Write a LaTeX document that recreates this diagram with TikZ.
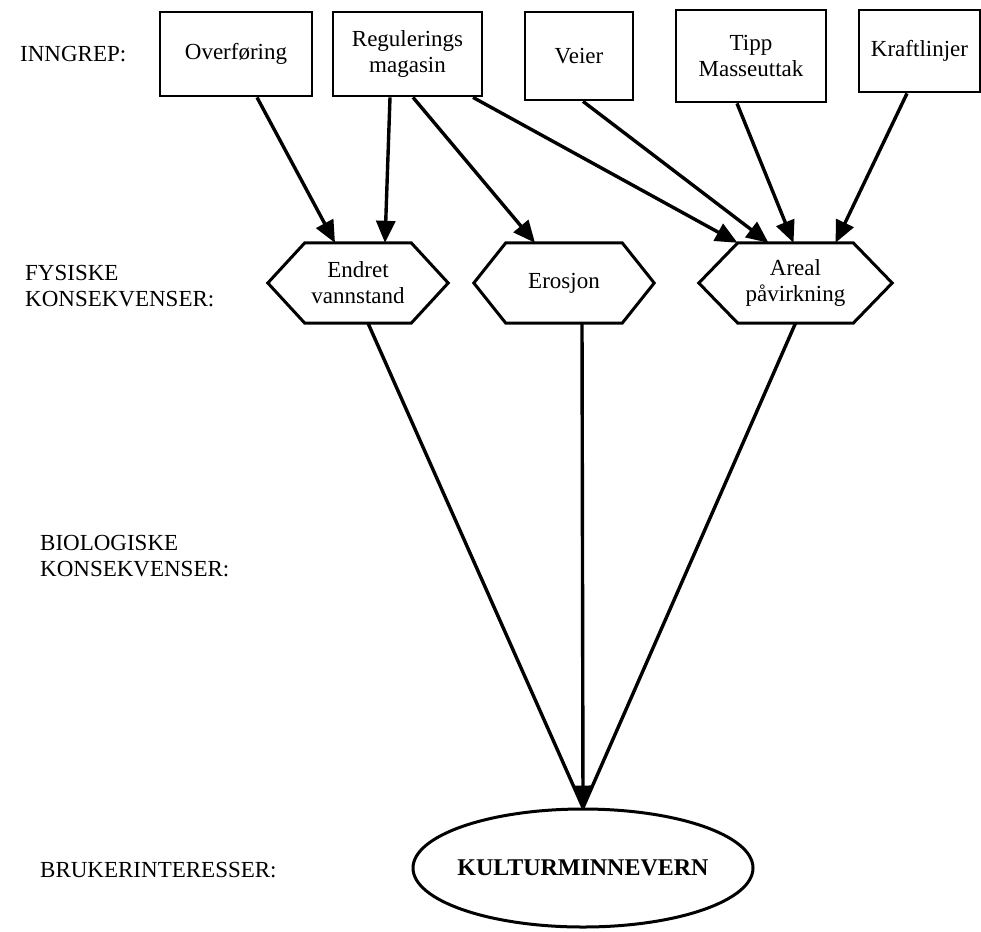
\documentclass[tikz,border=0pt]{standalone}
\usepackage{fontspec}
\setmainfont{Liberation Serif}
\usetikzlibrary{arrows.meta,calc,shapes.geometric}
\begin{document}
\begin{tikzpicture}[x=1pt,y=-1pt,
  txt/.style={font=\fontsize{23}{26}\selectfont},
  lbl/.style={txt,anchor=west,align=left,inner sep=0pt},
  box/.style={txt,draw,line width=2.8pt,inner sep=0pt,align=center},
  hexnode/.style={txt,inner sep=0pt,align=center,minimum height=80pt},
  hexline/.style={line width=3pt,line join=miter},
  conn/.style={line width=3.4pt,-{Triangle[length=22pt,width=19pt]}},
  plain/.style={line width=3.4pt}
]
\useasboundingbox (0,0) rectangle (981,931);

% left labels
\node[lbl] (l1) at (20,54) {INNGREP:};
\node[lbl] (l2) at (25,286) {FYSISKE\\KONSEKVENSER:};
\node[lbl] (l3) at (40,556) {BIOLOGISKE\\KONSEKVENSER:};
\node[lbl] (l4) at (40,870) {BRUKERINTERESSER:};

% top boxes
\node[box,minimum width=152pt,minimum height=84pt] (over) at (236,54) {Overføring};
\node[box,minimum width=149pt,minimum height=84pt] (reg) at (407.5,54) {Regulerings\\magasin};
\node[box,minimum width=108pt,minimum height=88pt] (veier) at (579,56) {Veier};
\node[box,minimum width=150pt,minimum height=92pt] (tipp) at (751,56) {Tipp\\Masseuttak};
\node[box,minimum width=121pt,minimum height=82pt] (kraft) at (919.5,51) {Kraftlinjer};

% hexagons
\node[hexnode,minimum width=180pt] (endret) at (358,283) {Endret\\vannstand};
\node[hexnode,minimum width=180pt] (eros) at (564,283) {Erosjon};
\node[hexnode,minimum width=193pt] (areal) at (795.5,283) {Areal\\påvirkning};
\foreach \n/\c in {endret/37,eros/32,areal/39}{
  \draw[hexline] (\n.west) -- ($(\n.north west)+(\c,0)$) -- ($(\n.north east)+(-\c,0)$)
    -- (\n.east) -- ($(\n.south east)+(-\c,0)$) -- ($(\n.south west)+(\c,0)$) -- cycle;
}

% ellipse
\node[ellipse,draw,line width=3pt,minimum width=340pt,minimum height=118pt,inner sep=0pt] (kult) at (583,868) {};
\node[inner sep=0pt,font=\fontsize{24}{26}\selectfont\bfseries] (kultlbl) at (kult.center) {KULTURMINNEVERN};

% connectors top -> hexagons
\draw[conn] ($(over.south)+(21,0)$) -- ($(endret.north)+(-23,0)$);
\draw[conn] ($(reg.south)+(-17.5,0)$) -- ($(endret.north)+(27,0)$);
\draw[conn] ($(reg.south)+(5.5,0)$) -- ($(eros.north)+(-29,0)$);
\draw[conn] ($(reg.south)+(65.5,0)$) -- ($(areal.north)+(-58,0)$);
\draw[conn] ($(veier.south)+(4,0)$) -- ($(areal.north)+(-27,0)$);
\draw[conn] ($(tipp.south)+(-14,0)$) -- ($(areal.north)+(-2,0)$);
\draw[conn] ($(kraft.south)+(-12.5,0)$) -- ($(areal.north)+(40,0)$);

% connectors hexagons -> ellipse
\draw[plain] ($(endret.south)+(10,0)$) -- (kult.north);
\draw[plain] ($(areal.south)+(0,0)$) -- (kult.north);
\draw[conn] ($(eros.south)+(18,0)$) -- (kult.north);
\end{tikzpicture}
\end{document}
